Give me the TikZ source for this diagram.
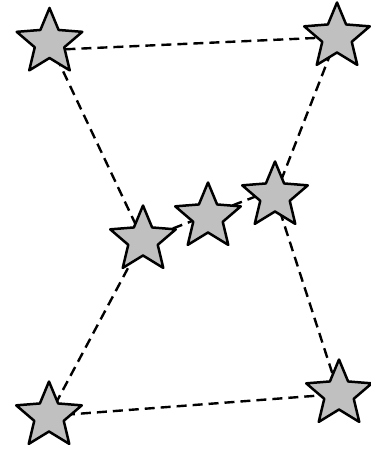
\documentclass[tikz,border=0pt]{standalone}
\begin{document}
\begin{tikzpicture}[x=1pt,y=-1pt,
  starshape/.style={draw=black, line width=2.5pt, fill={rgb,255:red,192;green,192;blue,192}, line join=round},
  starpic/.pic={\path[starshape] (-90:34.5) \foreach \a/\r in {-54/15.5,-18/34.5,18/15.5,54/34.5,90/15.5,126/34.5,162/15.5,198/34.5,234/15.5} {-- (\a:\r)} -- cycle;},
  link/.style={draw=black, line width=2.4pt, dash pattern=on 10pt off 6pt}]
\fill[white] (0,0) rectangle (370,449);
\useasboundingbox (0,0) rectangle (370,449);
\coordinate (tl) at (49.5,42.5);
\coordinate (tr) at (337,37);
\coordinate (bl) at (143,240);
\coordinate (bm) at (208,217);
\coordinate (br) at (275,196);
\coordinate (lb) at (49,416);
\coordinate (rb) at (339,394);
% connectors
\draw[link] ([yshift=-7.5pt]tl) -- (tr);
\draw[link] (tl) -- (bl);
\draw[link] (tr) -- (br);
\draw[link] (bl) -- ([yshift=7pt]br);
\draw[link] (bl) -- (lb);
\draw[link] (br) -- (rb);
\draw[link] (lb) -- (rb);
% stars
\foreach \s in {tl,tr,bl,bm,br,lb,rb} {\pic at (\s) {starpic};}
\end{tikzpicture}
\end{document}
